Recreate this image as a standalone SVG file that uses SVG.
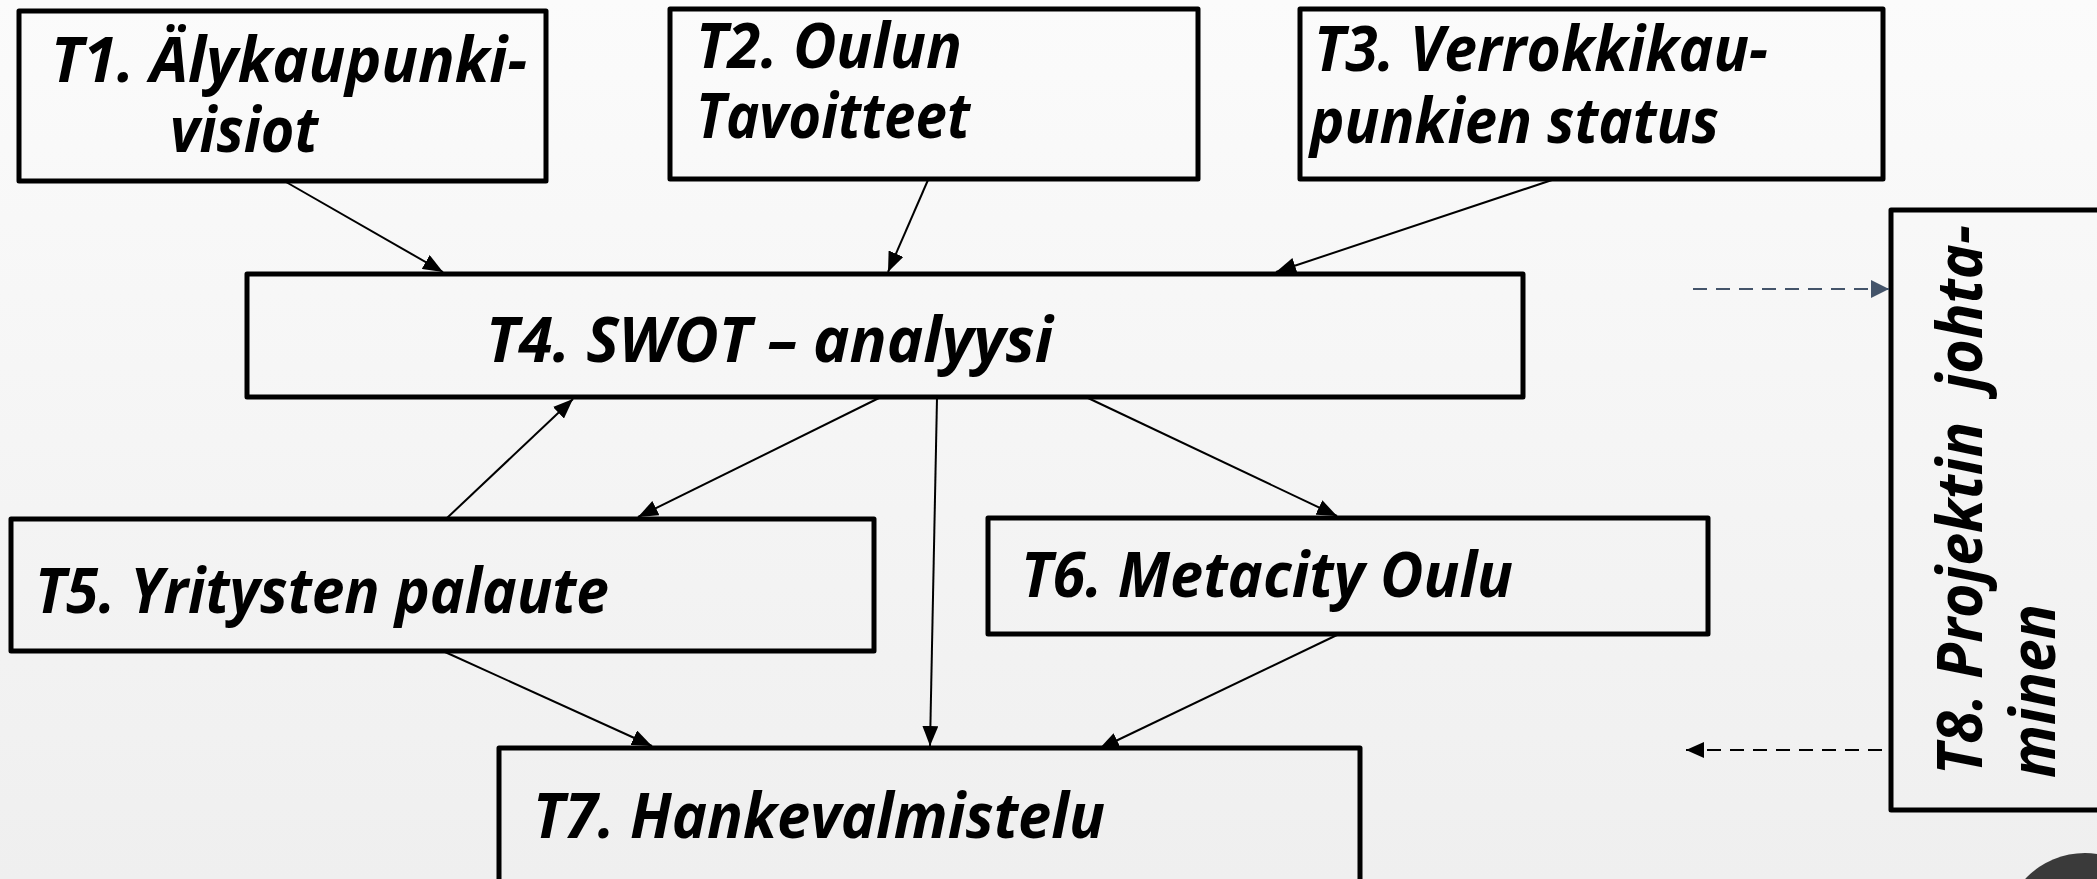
<svg xmlns="http://www.w3.org/2000/svg" width="2097" height="879" viewBox="0 0 2097 879">
<defs>
<linearGradient id="bg" x1="0" y1="0" x2="0" y2="1">
<stop offset="0" stop-color="#fbfbfb"/>
<stop offset="1" stop-color="#efefef"/>
</linearGradient>
<marker id="ah" markerUnits="userSpaceOnUse" markerWidth="22" markerHeight="16" refX="20" refY="8" orient="auto">
<path d="M0,0 L20,8 L0,16 Z" fill="#000"/>
</marker>
<marker id="ahs" markerUnits="userSpaceOnUse" markerWidth="20" markerHeight="18" refX="18" refY="9" orient="auto">
<path d="M0,0 L18,9 L0,18 Z" fill="#44546a"/>
</marker>
<marker id="ahd" markerUnits="userSpaceOnUse" markerWidth="20" markerHeight="16" refX="18" refY="8" orient="auto">
<path d="M0,0 L18,8 L0,16 Z" fill="#000"/>
</marker>
</defs>
<style>
.box{fill:none;stroke:#000;stroke-width:5;stroke-linejoin:round}
.t{font-family:"Open Sans","Liberation Sans",Arial,sans-serif;font-weight:bold;font-style:italic;font-size:62px;fill:#000}
.c{stroke:#000;stroke-width:2;fill:none;marker-end:url(#ah)}
</style>
<rect x="0" y="0" width="2097" height="879" fill="url(#bg)"/>

<g id="T1">
<rect class="box" x="19" y="11" width="527" height="170"/>
<text class="t" x="51" y="82" textLength="476" lengthAdjust="spacingAndGlyphs">T1. Älykaupunki-</text>
<text class="t" x="170" y="152" textLength="148" lengthAdjust="spacingAndGlyphs">visiot</text>
</g>
<g id="T2">
<rect class="box" x="670" y="9" width="528" height="170"/>
<text class="t" x="696" y="68" textLength="266" lengthAdjust="spacingAndGlyphs">T2. Oulun</text>
<text class="t" x="696" y="138" textLength="274" lengthAdjust="spacingAndGlyphs">Tavoitteet</text>
</g>
<g id="T3">
<rect class="box" x="1300" y="9" width="583" height="170"/>
<text class="t" x="1314" y="71" textLength="454" lengthAdjust="spacingAndGlyphs">T3. Verrokkikau-</text>
<text class="t" x="1310" y="143" textLength="409" lengthAdjust="spacingAndGlyphs">punkien status</text>
</g>
<g id="T4">
<rect class="box" x="247" y="274" width="1276" height="123"/>
<text class="t" x="486" y="362" textLength="567" lengthAdjust="spacingAndGlyphs">T4. SWOT – analyysi</text>
</g>
<g id="T5">
<rect class="box" x="11" y="519" width="863" height="132"/>
<text class="t" x="35" y="613" textLength="574" lengthAdjust="spacingAndGlyphs">T5. Yritysten palaute</text>
</g>
<g id="T6">
<rect class="box" x="988" y="518" width="720" height="116"/>
<text class="t" x="1021" y="597" textLength="492" lengthAdjust="spacingAndGlyphs">T6. Metacity Oulu</text>
</g>
<g id="T7">
<rect class="box" x="499" y="748" width="861" height="140"/>
<text class="t" x="533" y="838" textLength="572" lengthAdjust="spacingAndGlyphs">T7. Hankevalmistelu</text>
</g>
<g id="T8">
<rect class="box" x="1891" y="210" width="220" height="600"/>
<text class="t" xml:space="preserve" transform="translate(1982,775) rotate(-90)" x="0" y="0" textLength="550" lengthAdjust="spacingAndGlyphs">T8. Projektin  johta-</text>
<text class="t" transform="translate(2055,778) rotate(-90)" x="0" y="0" textLength="174" lengthAdjust="spacingAndGlyphs">minen</text>
</g>

<g id="connectors">
<line class="c" x1="286" y1="182" x2="443" y2="272"/>
<line class="c" x1="928" y1="180" x2="888" y2="272"/>
<line class="c" x1="1552" y1="180" x2="1276" y2="272"/>
<line class="c" x1="447" y1="518" x2="573" y2="399"/>
<line class="c" x1="879" y1="398" x2="638" y2="517"/>
<line class="c" x1="937" y1="398" x2="930" y2="746"/>
<line class="c" x1="1088" y1="398" x2="1337" y2="516"/>
<line class="c" x1="445" y1="652" x2="652" y2="746"/>
<line class="c" x1="1337" y1="635" x2="1099" y2="749"/>
<line x1="1693" y1="289" x2="1889" y2="289" stroke="#44546a" stroke-width="2" stroke-dasharray="14,9" marker-end="url(#ahs)"/>
<line x1="1882" y1="750" x2="1686" y2="750" stroke="#000" stroke-width="2" stroke-dasharray="14,9" marker-end="url(#ahd)"/>
</g>

<circle cx="2085" cy="935" r="82" fill="#3a3a3a"/>
</svg>
